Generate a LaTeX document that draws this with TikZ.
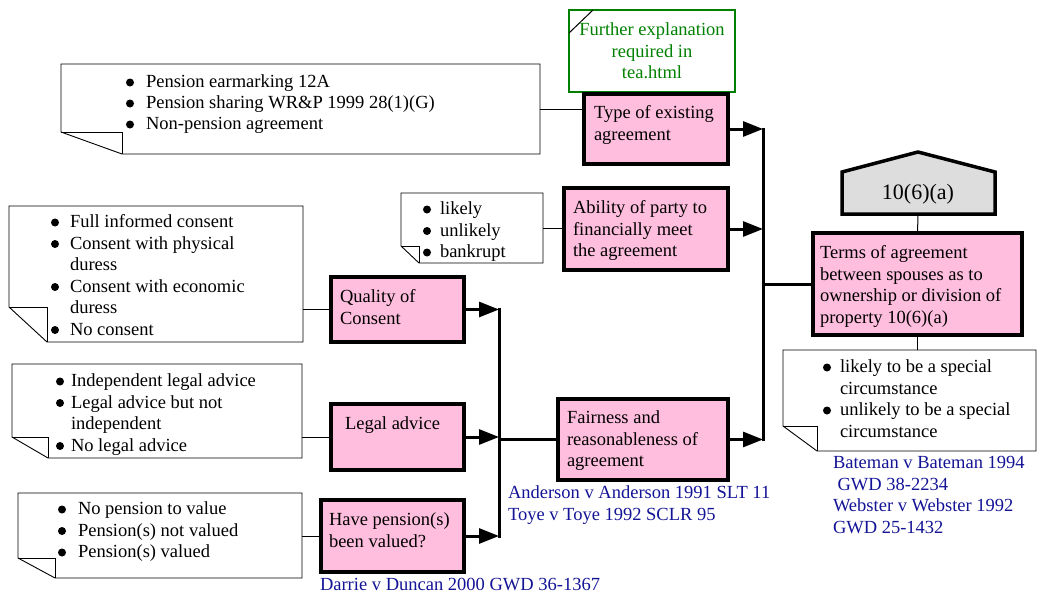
\documentclass[tikz,border=0pt]{standalone}
\usepackage{fontspec}
\setmainfont{Liberation Serif}
\usetikzlibrary{arrows.meta}
\definecolor{boxpink}{RGB}{255,190,222}
\definecolor{penta}{RGB}{221,221,221}
\definecolor{grn}{RGB}{0,128,0}
\definecolor{citeblue}{RGB}{20,20,150}
\newcommand\mytab[1]{\begin{tabular}[t]{@{}l@{}}#1\end{tabular}}
\newcommand\mytabc[1]{\begin{tabular}[t]{@{}c@{}}#1\end{tabular}}
\newcommand\notefold[3]{%
  \draw[note] (#1.north west) -- (#1.north east) -- (#1.south east) -- ([xshift=#2pt]#1.south west) -- ([yshift=#3pt]#1.south west) -- cycle;
  \draw[note,fill=none] ([yshift=#3pt]#1.south west) -- ([xshift=#2pt,yshift=#3pt]#1.south west) -- ([xshift=#2pt]#1.south west);}
\newcommand\bullets[2]{\foreach \yy in {#2} {\fill (#1,\yy) circle (4pt);}}
\begin{document}
\begin{tikzpicture}[x=1pt,y=-1pt,
  every node/.style={inner sep=0pt, outer sep=0pt, font=\fontsize{18.5}{21.5}\selectfont},
  pbox/.style={draw, line width=3.5pt, fill=boxpink, rectangle},
  note/.style={draw, line width=0.9pt, fill=white},
  txt/.style={anchor=base west},
  thin/.style={line width=1pt},
  arr/.style={line width=3pt, -{Triangle[length=20pt,width=15pt]}},
  bus/.style={line width=3pt, line cap=rect},
  cite/.style={anchor=base west, text=citeblue}
]
\useasboundingbox (0,0) rectangle (1039,597);

% ---------- notes (folded corner) ----------
\node[minimum width=479pt, minimum height=90pt] (n1) at (300.5,109) {};
\node[minimum width=142pt, minimum height=70pt] (n2) at (472,228) {};
\node[minimum width=294pt, minimum height=136pt] (n3) at (156,274) {};
\node[minimum width=290pt, minimum height=94pt] (n4) at (157,411) {};
\node[minimum width=284pt, minimum height=85pt] (n5) at (160,535.5) {};
\node[minimum width=253pt, minimum height=101pt] (n6) at (909.5,400.5) {};
\notefold{n1}{61}{22}
\notefold{n2}{18}{17}
\notefold{n3}{38}{35}
\notefold{n4}{36}{21}
\notefold{n5}{37}{20}
\notefold{n6}{34}{25}

\node[txt, font=\fontsize{18.5}{21}\selectfont] (n1t) at (146,87.5) {\mytab{Pension earmarking 12A\\Pension sharing WR\&P 1999 28(1)(G)\\Non-pension agreement}};
\bullets{130}{82.5,103.5,124.5}
\node[txt] (n2t) at (440,214.5) {\mytab{likely\\unlikely\\bankrupt}};
\bullets{427}{209.5,231,252.5}
\node[txt] (n3t) at (70,227.5) {\mytab{Full informed consent\\Consent with physical\\duress\\Consent with economic\\duress\\No consent}};
\bullets{55}{222.5,244,287,330}
\node[txt] (n4t) at (71,386.5) {\mytab{Independent legal advice\\Legal advice but not\\independent\\No legal advice}};
\bullets{60}{381.5,403,446}
\node[txt] (n5t) at (78,514.5) {\mytab{No pension to value\\Pension(s) not valued\\Pension(s) valued}};
\bullets{62}{509.5,531,552.5}
\node[txt] (n6t) at (840,372.5) {\mytab{likely to be a special\\circumstance\\unlikely to be a special\\circumstance}};
\bullets{827}{367.5,410.5}

% ---------- green note ----------
\node[draw=grn, line width=1.8pt, fill=white, minimum width=166pt, minimum height=82pt] (grnb) at (652,51) {};
\draw[thin] ([yshift=-23pt]grnb.north west) -- ([xshift=24pt]grnb.north west);
\node[anchor=base, text=grn] (grnt) at (652,35.5) {\mytabc{Further explanation\\required in\\tea.html}};

% ---------- pink boxes ----------
\node[pbox, minimum width=144pt, minimum height=70pt] (type) at (656,129) {};
\node[pbox, minimum width=164pt, minimum height=82pt] (abil) at (646,229) {};
\node[pbox, minimum width=170pt, minimum height=81pt] (fair) at (643,439.5) {};
\node[pbox, minimum width=133pt, minimum height=65pt] (qual) at (397.5,309.5) {};
\node[pbox, minimum width=133pt, minimum height=66pt] (legal) at (397.5,437) {};
\node[pbox, minimum width=143pt, minimum height=72pt] (pens) at (392.5,536) {};
\node[pbox, minimum width=209pt, minimum height=102pt] (terms) at (917.5,284) {};

\node[txt] (typet) at (594,118.5) {\mytab{Type of existing\\agreement}};
\node[txt] (abilt) at (573,213.5) {\mytab{Ability of party to\\financially meet\\the agreement}};
\node[txt] (fairt) at (567,423.5) {\mytab{Fairness and\\reasonableness of\\agreement}};
\node[txt] (qualt) at (340,302.5) {\mytab{Quality of\\Consent}};
\node[txt] (legalt) at (345,429.5) {Legal advice};
\node[txt] (penst) at (329,525.5) {\mytab{Have pension(s)\\been valued?}};
\node[txt] (termst) at (820,258.5) {\mytab{Terms of agreement\\between spouses as to\\ownership or division of\\property 10(6)(a)}};

% ---------- pentagon ----------
\draw[line width=3.5pt, fill=penta, line join=miter] (842,214) -- (842,172) -- (918,152) -- (995,172) -- (995,214) -- cycle;
\node[font=\fontsize{22}{26}\selectfont] (sec) at (918,194) {10(6)(a)};
\coordinate (penb) at (918,215.5);

% ---------- thin connectors ----------
\draw[thin] (n1.east) -- (n1.east -| type.west);
\draw[thin] (n2.east) -- (n2.east -| abil.west);
\draw[thin] (qual.west -| n3.east) -- (qual.west);
\draw[thin] (legal.west -| n4.east) -- (legal.west);
\draw[thin] (pens.west -| n5.east) -- (pens.west);
\draw[thin] (penb) -- (terms.north);
\draw[thin] (terms.south) -- (terms.south |- n6.north);

% ---------- right bus ----------
\coordinate (rtop) at (763,129);
\coordinate (rbot) at (763,439.5);
\draw[bus] (rtop) -- (rbot);
\draw[arr] (type.east) -- (rtop);
\draw[arr] (abil.east) -- (abil.east -| rtop);
\draw[arr] (fair.east) -- (rbot);
\draw[line width=3pt] (terms.west -| rtop) -- (terms.west);

% ---------- left bus ----------
\coordinate (ltop) at (499,309.5);
\coordinate (lbot) at (499,536);
\draw[bus] (ltop) -- (lbot);
\draw[arr] (qual.east) -- (ltop);
\draw[arr] (legal.east) -- (legal.east -| ltop);
\draw[arr] (pens.east) -- (lbot);
\draw[line width=3pt] (fair.west -| ltop) -- (fair.west);

% ---------- citations ----------
\node[cite] (c1) at (508,498.5) {\mytab{Anderson v Anderson 1991 SLT 11\\Toye v Toye 1992 SCLR 95}};
\node[cite] (c2) at (320,590.5) {Darrie v Duncan 2000 GWD 36-1367};
\node[cite] (c3) at (833,468.5) {\mytab{Bateman v Bateman 1994\\\ GWD 38-2234\\Webster v Webster 1992\\GWD 25-1432}};
\end{tikzpicture}
\end{document}
